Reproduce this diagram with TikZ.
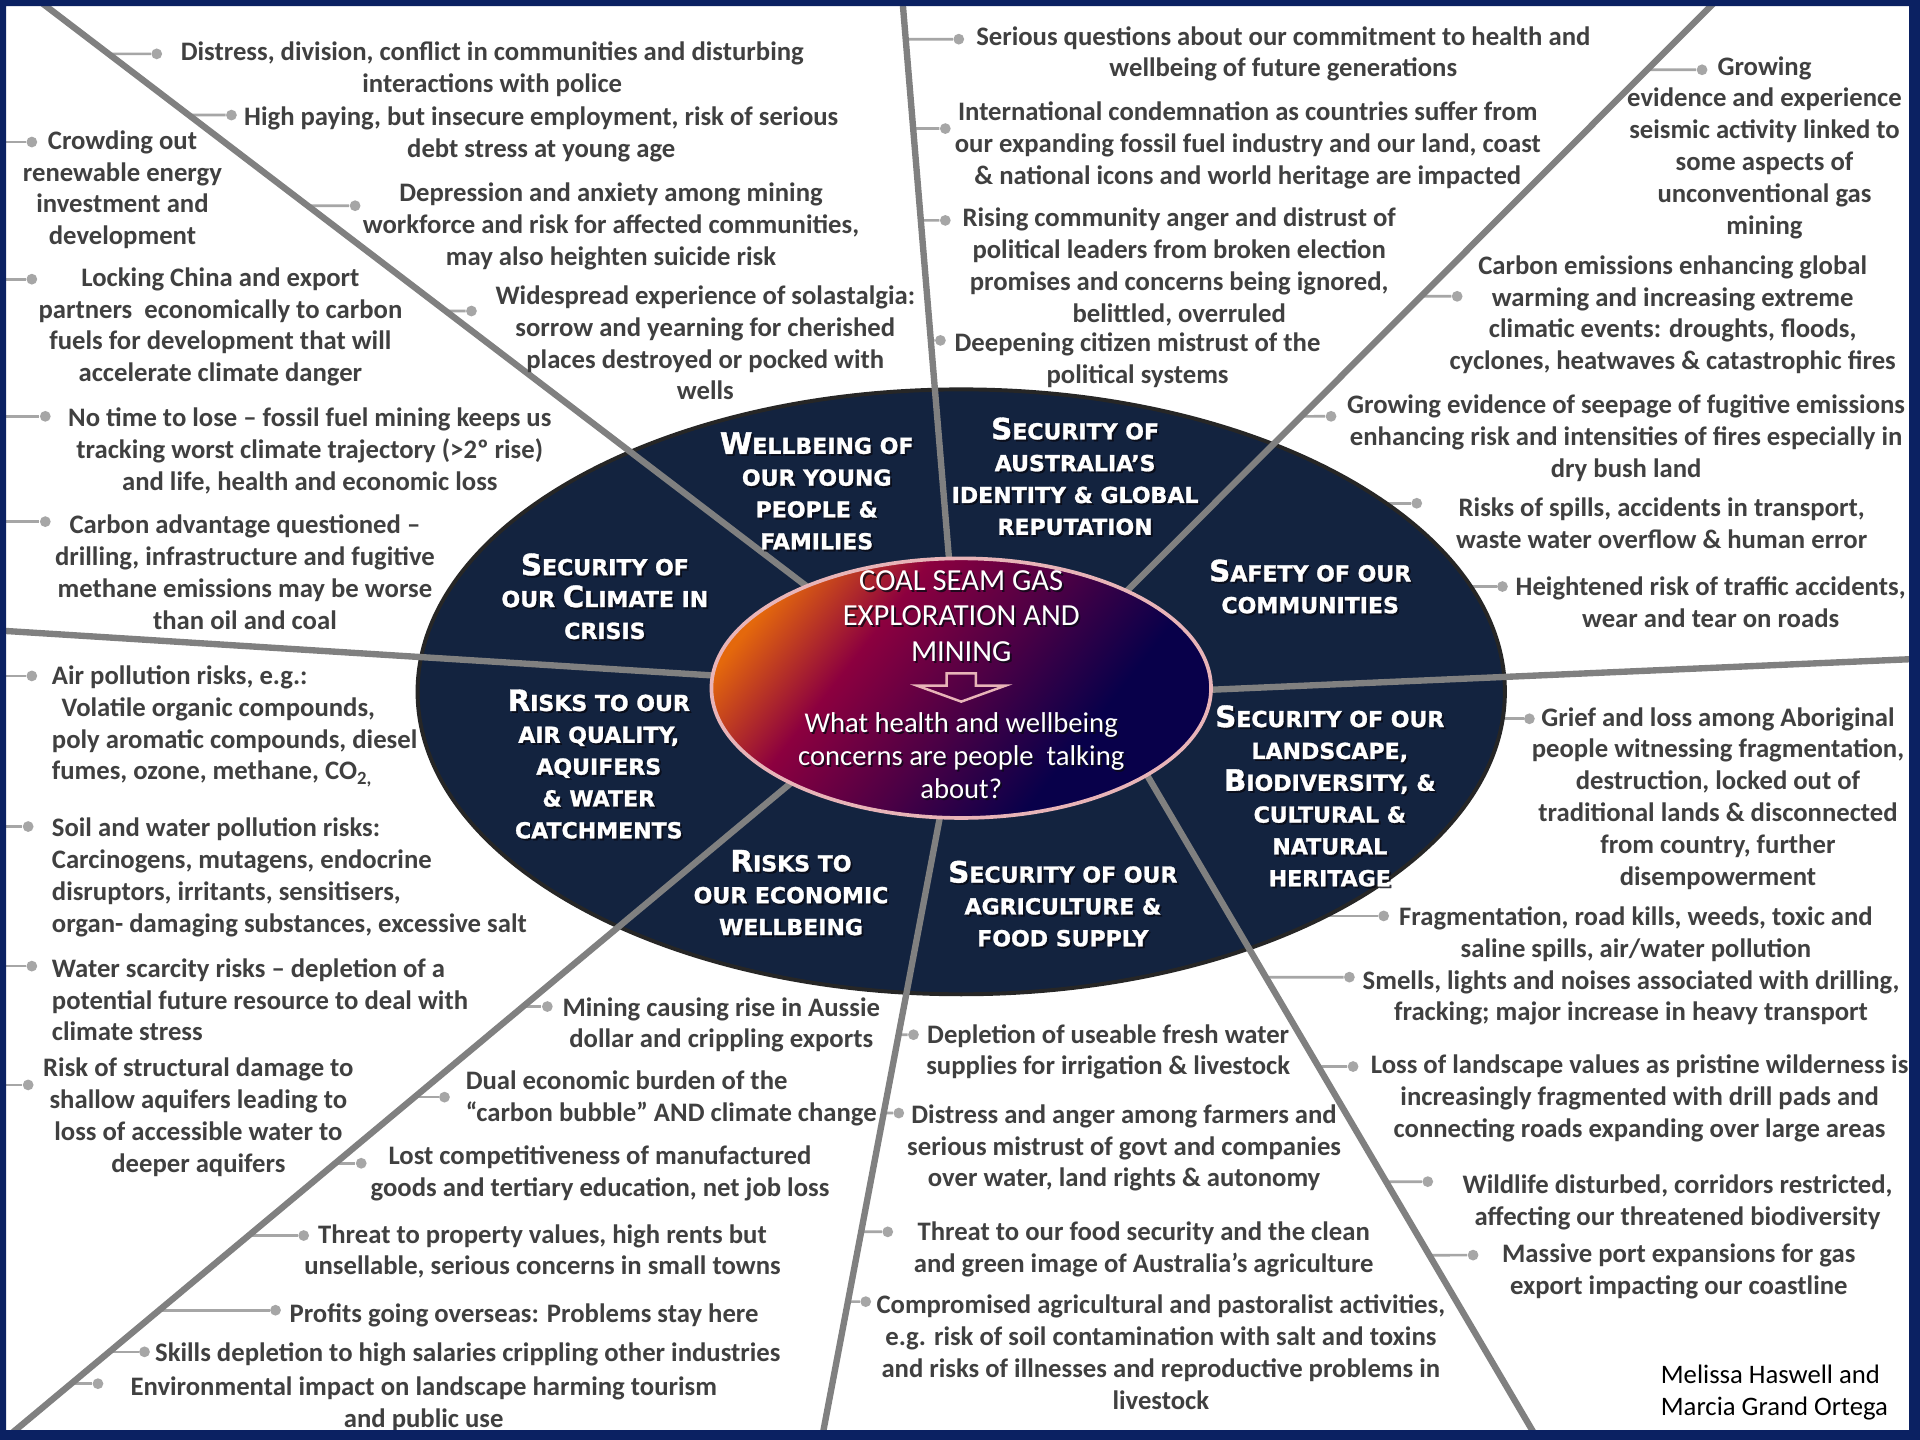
\documentclass[tikz,border=0pt]{standalone}
\usepackage{fontspec}
\setmainfont{Carlito}
\newfontfamily\titlefont{DejaVu Sans}[BoldFeatures={FakeBold=1.3}]
\usetikzlibrary{calc}

\definecolor{frameblue}{HTML}{0B2162}
\definecolor{ringnavy}{HTML}{13233F}
\definecolor{ringedge}{HTML}{262626}
\definecolor{spokegrey}{HTML}{808080}
\definecolor{linkgrey}{HTML}{A6A6A6}
\definecolor{labelgrey}{HTML}{404040}
\definecolor{hubpink}{HTML}{E8B4B8}
\definecolor{gOrange}{HTML}{E4680C}
\definecolor{gCrimson}{HTML}{8C003F}
\definecolor{gPlum}{HTML}{4A0045}
\definecolor{gNavy}{HTML}{08004A}
\definecolor{shadowink}{HTML}{0A0A14}

\pgfdeclarehorizontalshading{hubshade}{100bp}{color(0bp)=(gOrange); color(24bp)=(gOrange); color(37bp)=(gCrimson); color(52bp)=(gPlum); color(66bp)=(gNavy); color(100bp)=(gNavy)}

\tikzset{
  spoke/.style={draw=spokegrey, line width=2.6pt},
  link/.style={draw=linkgrey, line width=1.1pt},
  dot/.style={circle, fill=linkgrey, inner sep=0pt, minimum size=4.4pt},
  lab/.style={font=\fontsize{10.9}{13}\selectfont\bfseries, text=labelgrey, align=center, inner sep=0pt},
  labl/.style={lab, align=left, anchor=west},
  sector/.style={font=\titlefont\bfseries\fontsize{9}{13}\selectfont, text=white, align=center, inner sep=0pt},
  hubtext/.style={font=\fontsize{12.5}{14.5}\selectfont, text=white, align=center, inner sep=0pt},
  hubask/.style={font=\fontsize{11.7}{13.4}\selectfont, text=white, align=center, inner sep=0pt},
  shade ink/.style={text=shadowink, text opacity=0.8},
}
\newcommand\bc[1]{{\fontsize{12}{13}\selectfont #1}}
% short grey lead from a spoke (#1--#2) to the dot #3
\newcommand\spokelink[3]{\path (#3) ++(-40,0) coordinate (lkaux);
  \draw[link] (intersection of #1--#2 and #3--lkaux) -- (#3);}
% white heading with a soft drop shadow: style, name, position, text
\newcommand\shadowtext[4]{%
  \node[#1, shade ink] (#2-sh) at ($(#3)+(1.5,1.5)$) {#4};
  \node[#1] (#2) at (#3) {#4};}

\begin{document}
\begin{tikzpicture}[x=0.5pt,y=-0.5pt]
\fill[white] (0,0) rectangle (1568,1176);
\useasboundingbox (0,0) rectangle (1568,1176);

% reference points
\coordinate (hub) at (785,565);
\coordinate (edgeL) at (0,0);
\coordinate (s1o) at (31,0);     \coordinate (s1i) at (680,495);
\coordinate (s2o) at (737,0);    \coordinate (s2i) at (777,480);
\coordinate (s3o) at (1402,0);   \coordinate (s3i) at (900,503);
\coordinate (s4o) at (1568,538); \coordinate (s4i) at (950,565);
\coordinate (s5o) at (1256,1176);\coordinate (s5i) at (915,596);
\coordinate (s6o) at (671,1176); \coordinate (s6i) at (772,644);
\coordinate (s7o) at (3,1176);   \coordinate (s7i) at (680,611);
\coordinate (s8o) at (0,515);    \coordinate (s8i) at (620,554);

% dots
\node[dot] (H1d) at (128,44) {};
\node[dot] (H2d) at (189,94) {};
\node[dot] (H3d) at (290,168) {};
\node[dot] (H4d) at (385,254) {};
\node[dot] (A1d) at (26,116) {};
\node[dot] (A2d) at (26,228) {};
\node[dot] (A3d) at (37,340) {};
\node[dot] (A4d) at (37,426) {};
\node[dot] (B1d) at (26,552) {};
\node[dot] (B2d) at (23,675) {};
\node[dot] (B3d) at (26,789) {};
\node[dot] (B4d) at (23,886) {};
\node[dot] (C1d) at (447,822) {};
\node[dot] (C2d) at (363,896) {};
\node[dot] (C3d) at (295,950) {};
\node[dot] (C4d) at (248,1009) {};
\node[dot] (C5d) at (225,1070) {};
\node[dot] (C6d) at (118,1104) {};
\node[dot] (C7d) at (80,1130) {};
\node[dot] (D1d) at (746,845) {};
\node[dot] (D2d) at (734,909) {};
\node[dot] (D3d) at (725,1006) {};
\node[dot] (D4d) at (707,1063) {};
\node[dot] (E6d) at (1249,587) {};
\node[dot] (E1d) at (1130,748) {};
\node[dot] (E2d) at (1102,798) {};
\node[dot] (E3d) at (1105,871) {};
\node[dot] (E4d) at (1166,965) {};
\node[dot] (E5d) at (1203,1025) {};
\node[dot] (F5d) at (1390,57) {};
\node[dot] (F1d) at (1190,242) {};
\node[dot] (F2d) at (1087,340) {};
\node[dot] (F3d) at (1157,411) {};
\node[dot] (F4d) at (1227,479) {};
\node[dot] (G1d) at (783,32) {};
\node[dot] (G2d) at (772,105) {};
\node[dot] (G3d) at (772,180) {};
\node[dot] (G4d) at (768,278) {};

% leads from the spokes
\spokelink{s1o}{s1i}{H1d}
\spokelink{s1o}{s1i}{H2d}
\spokelink{s1o}{s1i}{H3d}
\spokelink{s1o}{s1i}{H4d}
\spokelink{s7o}{s7i}{C1d}
\spokelink{s7o}{s7i}{C2d}
\spokelink{s7o}{s7i}{C3d}
\spokelink{s7o}{s7i}{C4d}
\spokelink{s7o}{s7i}{C5d}
\spokelink{s7o}{s7i}{C6d}
\spokelink{s7o}{s7i}{C7d}
\spokelink{s6o}{s6i}{D1d}
\spokelink{s6o}{s6i}{D2d}
\spokelink{s6o}{s6i}{D3d}
\spokelink{s6o}{s6i}{D4d}
\spokelink{s5o}{s5i}{E2d}
\spokelink{s5o}{s5i}{E3d}
\spokelink{s5o}{s5i}{E4d}
\spokelink{s5o}{s5i}{E5d}
\spokelink{s3o}{s3i}{F5d}
\spokelink{s3o}{s3i}{F1d}
\spokelink{s3o}{s3i}{F2d}
\spokelink{s2o}{s2i}{G1d}
\spokelink{s2o}{s2i}{G2d}
\spokelink{s2o}{s2i}{G3d}
\spokelink{s2o}{s2i}{G4d}
% leads from the left margin
\foreach \d in {A1d,A2d,A3d,A4d,B1d,B2d,B3d,B4d}
  \draw[link] (\d -| edgeL) -- (\d);
% leads from the ring
\foreach \d in {E6d,E1d,F3d,F4d}
  \draw[link] (\d -| hub) -- (\d);

% outer ring
\draw[fill=ringnavy, draw=ringedge, line width=1.6pt] (hub) ellipse [x radius=444, y radius=247];

% spokes
\foreach \s in {1,...,8} \draw[spoke] (s\s o) -- (s\s i);

% central hub
\shade[shading=hubshade, shading angle=-38] (785,562) ellipse [x radius=204, y radius=106];
\draw[hubpink, line width=1.5pt] (785,562) ellipse [x radius=204, y radius=106];
\draw[hubpink, line width=1pt, line join=miter]
  (773,550) -- (797,550) -- (797,560) -- (821,560) -- (785,573) -- (749,560) -- (773,560) -- cycle;
\shadowtext{hubtext}{hubtop}{785,503}{COAL SEAM GAS\\EXPLORATION AND\\MINING}
\shadowtext{hubask}{hubq}{785,617}{What health and wellbeing\\concerns are people\ \ talking\\about?}

% sector titles
\shadowtext{sector}{T1}{667,401}{\bc{W}ELLBEING OF\\OUR YOUNG\\PEOPLE \&\\FAMILIES}
\shadowtext{sector}{T2}{878,389}{\bc{S}ECURITY OF\\AUSTRALIA’S\\IDENTITY \& GLOBAL\\REPUTATION}
\shadowtext{sector}{T3}{1070,479}{\bc{S}AFETY OF OUR\\COMMUNITIES}
\shadowtext{sector}{T4}{1086,650}{\bc{S}ECURITY OF OUR\\LANDSCAPE,\\\bc{B}IODIVERSITY, \&\\CULTURAL \&\\NATURAL\\HERITAGE}
\shadowtext{sector}{T5}{868,738}{\bc{S}ECURITY OF OUR\\AGRICULTURE \&\\FOOD SUPPLY}
\shadowtext{sector}{T6}{646,729}{\bc{R}ISKS TO\\OUR ECONOMIC\\WELLBEING}
\shadowtext{sector}{T7}{489,624}{\bc{R}ISKS TO OUR\\AIR QUALITY,\\AQUIFERS\\\& WATER\\CATCHMENTS}
\shadowtext{sector}{T8}{494,487}{\bc{S}ECURITY OF\\OUR \bc{C}LIMATE IN\\CRISIS}

% concern labels
\begin{scope}[shift={(0,2)}]
\node[lab] (H1) at (402,54.5) {Distress, division, conflict in communities and disturbing\\interactions with police};
\node[lab] (H2) at (442,108) {High paying, but insecure employment, risk of serious\\debt stress at young age};
\node[lab] (H3) at (499,183) {Depression and anxiety among mining\\workforce and risk for affected communities,\\may also heighten suicide risk};
\node[lab] (H4) at (576,278) {Widespread experience of solastalgia:\\sorrow and yearning for cherished\\places destroyed or pocked with\\wells};
\node[lab] (A1) at (100,153) {Crowding out\\renewable energy\\investment and\\development};
\node[lab] (A2) at (180,265) {Locking China and export\\partners\ \ economically to carbon\\fuels for development that will\\accelerate climate danger};
\node[lab] (A3) at (253,366) {No time to lose – fossil fuel mining keeps us\\tracking worst climate trajectory (>2º rise)\\and life, health and economic loss};
\node[lab] (A4) at (200,465.5) {Carbon advantage questioned –\\drilling, infrastructure and fugitive\\methane emissions may be worse\\than oil and coal};
\node[labl] (B1) at (42,591) {Air pollution risks, e.g.:\\\hspace*{4pt}Volatile organic compounds,\\poly aromatic compounds, diesel\\fumes, ozone, methane, CO\textsubscript{2,}};
\node[labl] (B2) at (42,714.5) {Soil and water pollution risks:\\Carcinogens, mutagens, endocrine\\disruptors, irritants, sensitisers,\\organ- damaging substances, excessive salt};
\node[labl] (B3) at (42,814.5) {Water scarcity risks – depletion of a\\potential future resource to deal with\\climate stress};
\node[lab] (B4) at (162,910.5) {Risk of structural damage to\\shallow aquifers leading to\\loss of accessible water to\\deeper aquifers};
\node[lab] (C1) at (589,835) {Mining causing rise in Aussie\\dollar and crippling exports};
\node[labl] (C2) at (380,895) {Dual economic burden of the\\“carbon bubble” AND climate change};
\node[lab] (C3) at (490,956) {Lost competitiveness of manufactured\\goods and tertiary education, net job loss};
\node[lab] (C4) at (443,1020) {Threat to property values, high rents but\\unsellable, serious concerns in small towns};
\node[lab] (C5) at (428,1072) {Profits going overseas: Problems stay here};
\node[lab] (C6) at (382,1104) {Skills depletion to high salaries crippling other industries};
\node[lab] (C7) at (346,1144.5) {Environmental impact on landscape harming tourism\\and public use};
\node[lab] (D1) at (905,857) {Depletion of useable fresh water\\supplies for irrigation \& livestock};
\node[lab] (D2) at (918,935.5) {Distress and anger among farmers and\\serious mistrust of govt and companies\\over water, land rights \& autonomy};
\node[lab] (D3) at (934,1018) {Threat to our food security and the clean\\and green image of Australia’s agriculture};
\node[lab] (D4) at (948,1102.5) {Compromised agricultural and pastoralist activities,\\e.g. risk of soil contamination with salt and toxins\\and risks of illnesses and reproductive problems in\\livestock};
\node[lab] (E6) at (1403,650) {Grief and loss among Aboriginal\\people witnessing fragmentation,\\destruction, locked out of\\traditional lands \& disconnected\\from country, further\\disempowerment};
\node[lab] (E1) at (1336,761) {Fragmentation, road kills, weeds, toxic and\\saline spills, air/water pollution};
\node[lab] (E2) at (1332,813) {Smells, lights and noises associated with drilling,\\fracking; major increase in heavy transport};
\node[lab] (E3) at (1339,895) {Loss of landscape values as pristine wilderness is\\increasingly fragmented with drill pads and\\connecting roads expanding over large areas};
\node[lab] (E4) at (1370,980) {Wildlife disturbed, corridors restricted,\\affecting our threatened biodiversity};
\node[lab] (E5) at (1371,1036) {Massive port expansions for gas\\export impacting our coastline};
\node[lab] (F5) at (1441,118.5) {Growing\\evidence and experience\\seismic activity linked to\\some aspects of\\unconventional gas\\mining};
\node[lab] (F1) at (1366,255) {Carbon emissions enhancing global\\warming and increasing extreme\\climatic events: droughts, floods,\\cyclones, heatwaves \& catastrophic fires};
\node[lab] (F2) at (1328,356) {Growing evidence of seepage of fugitive emissions\\enhancing risk and intensities of fires especially in\\dry bush land};
\node[lab] (F3) at (1357,425) {Risks of spills, accidents in transport,\\waste water overflow \& human error};
\node[lab] (F4) at (1397,490) {Heightened risk of traffic accidents,\\wear and tear on roads};
\node[lab] (G1) at (1048,42) {Serious questions about our commitment to health and\\wellbeing of future generations};
\node[lab] (G2) at (1019,117) {International condemnation as countries suffer from\\our expanding fossil fuel industry and our land, coast\\\& national icons and world heritage are impacted};
\node[lab] (G3) at (963,216) {Rising community anger and distrust of\\political leaders from broken election\\promises and concerns being ignored,\\belittled, overruled};
\node[lab] (G4) at (929,292) {Deepening citizen mistrust of the\\political systems};

% authors
\node[font=\fontsize{10.9}{13}\selectfont, align=left, anchor=west, inner sep=0pt] (authors) at (1356,1135) {Melissa Haswell and\\Marcia Grand Ortega};
\end{scope}

% frame
\fill[frameblue, even odd rule] (0,0) rectangle (1568,1176) (5,5) rectangle (1559,1168);
\end{tikzpicture}
\end{document}
